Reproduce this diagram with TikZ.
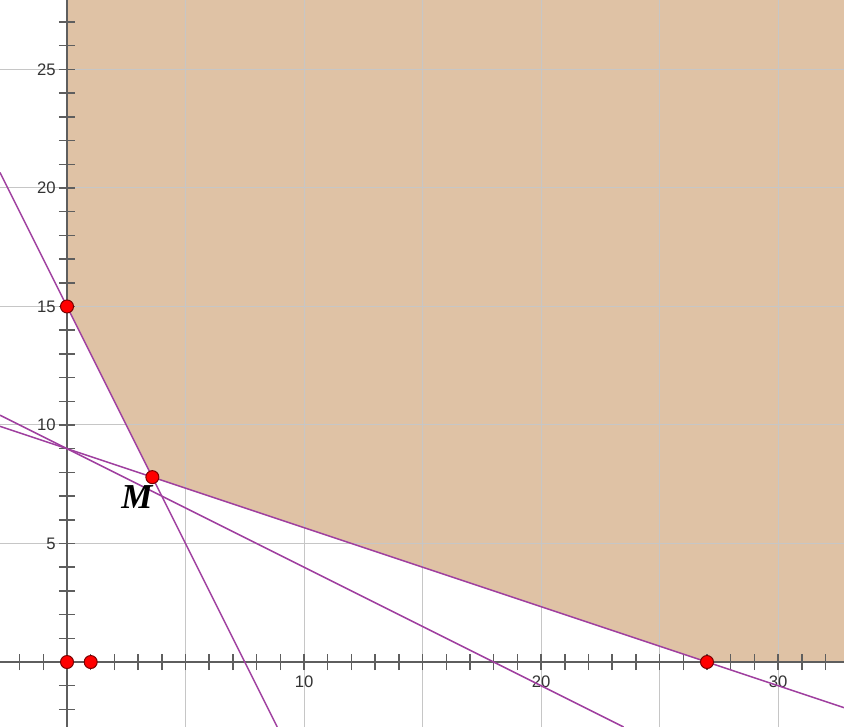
\documentclass[tikz,border=0pt]{standalone}
\usepackage{fontspec}
\setmainfont{Liberation Sans}
\newfontfamily\pointfont{Liberation Serif}
\usetikzlibrary{positioning}
\definecolor{RegionTan}{HTML}{DFC2A5}
\definecolor{LinePurple}{HTML}{A040A0}
\definecolor{GridGray}{HTML}{C6C6C6}
\definecolor{AxisGray}{HTML}{5E5E5E}
\definecolor{LabelGray}{HTML}{333333}
\definecolor{DotRed}{HTML}{FF0000}
\definecolor{DotEdge}{HTML}{7A0000}
\tikzset{
    % grid and axes
    gridline/.style={
        draw=GridGray,
        line width=0.6pt
    },
    axisline/.style={
        draw=AxisGray,
        line width=1.1pt
    },
    tickmark/.style={
        draw=AxisGray,
        line width=0.9pt
    },
    ticklabel/.style={
        text=LabelGray,
        font=\fontsize{10}{12}\selectfont,
        inner sep=0pt
    },
    % constraint lines and points
    boundary/.style={
        draw=LinePurple,
        line width=0.9pt
    },
    vertexdot/.style={
        circle,
        fill=DotRed,
        draw=DotEdge,
        line width=0.6pt,
        minimum size=7.8pt,
        inner sep=0pt
    },
    pointlabel/.style={
        font=\pointfont\bfseries\itshape\fontsize{21}{21}\selectfont,
        inner sep=0pt
    }
}

\begin{document}
\begin{tikzpicture}[x=0.5cm, y=0.5cm]
    \useasboundingbox (-2.827,-2.74) rectangle (32.78,27.93);
    \clip (-2.827,-2.74) rectangle (32.78,27.93);

    % feasible region
    \fill[RegionTan] (0,27.93) -- (0,15) -- (3.6,7.8) -- (27,0) -- (32.78,0) -- (32.78,27.93) -- cycle;

    % grid
    \foreach \k in {5,10,...,30}
        \draw[gridline] (\k,-2.74) -- (\k,27.93);
    \foreach \k in {5,10,...,25}
        \draw[gridline] (-2.827,\k) -- (32.78,\k);

    % axes with ticks
    \draw[axisline] (-2.827,0) -- (32.78,0);
    \draw[axisline] (0,-2.74) -- (0,27.93);
    \foreach \k in {-2,...,32}
        \draw[tickmark] (\k,-0.34) -- (\k,0.34);
    \foreach \k in {-2,...,27}
        \draw[tickmark] (-0.34,\k) -- (0.34,\k);
    \foreach \k in {10,20,30}
        \node[ticklabel] (xl\k) at (\k,-0.84) {\k};
    \foreach \k in {5,10,...,25}
        \node[ticklabel, anchor=east] (yl\k) at (-0.47,\k) {\k};

    % constraint lines
    \draw[boundary] (-2.827,20.654) -- (8.87,-2.74);
    \draw[boundary] (-2.827,9.942) -- (32.78,-1.927);
    \draw[boundary] (-2.827,10.414) -- (23.48,-2.74);

    % points
    \node[vertexdot] (O) at (0,0) {};
    \node[vertexdot] (E) at (1,0) {};
    \node[vertexdot] (A) at (0,15) {};
    \node[vertexdot] (M) at (3.6,7.8) {};
    \node[vertexdot] (B) at (27,0) {};
    \node[pointlabel] (Mlabel) at (2.95,6.96) {M};
\end{tikzpicture}
\end{document}
